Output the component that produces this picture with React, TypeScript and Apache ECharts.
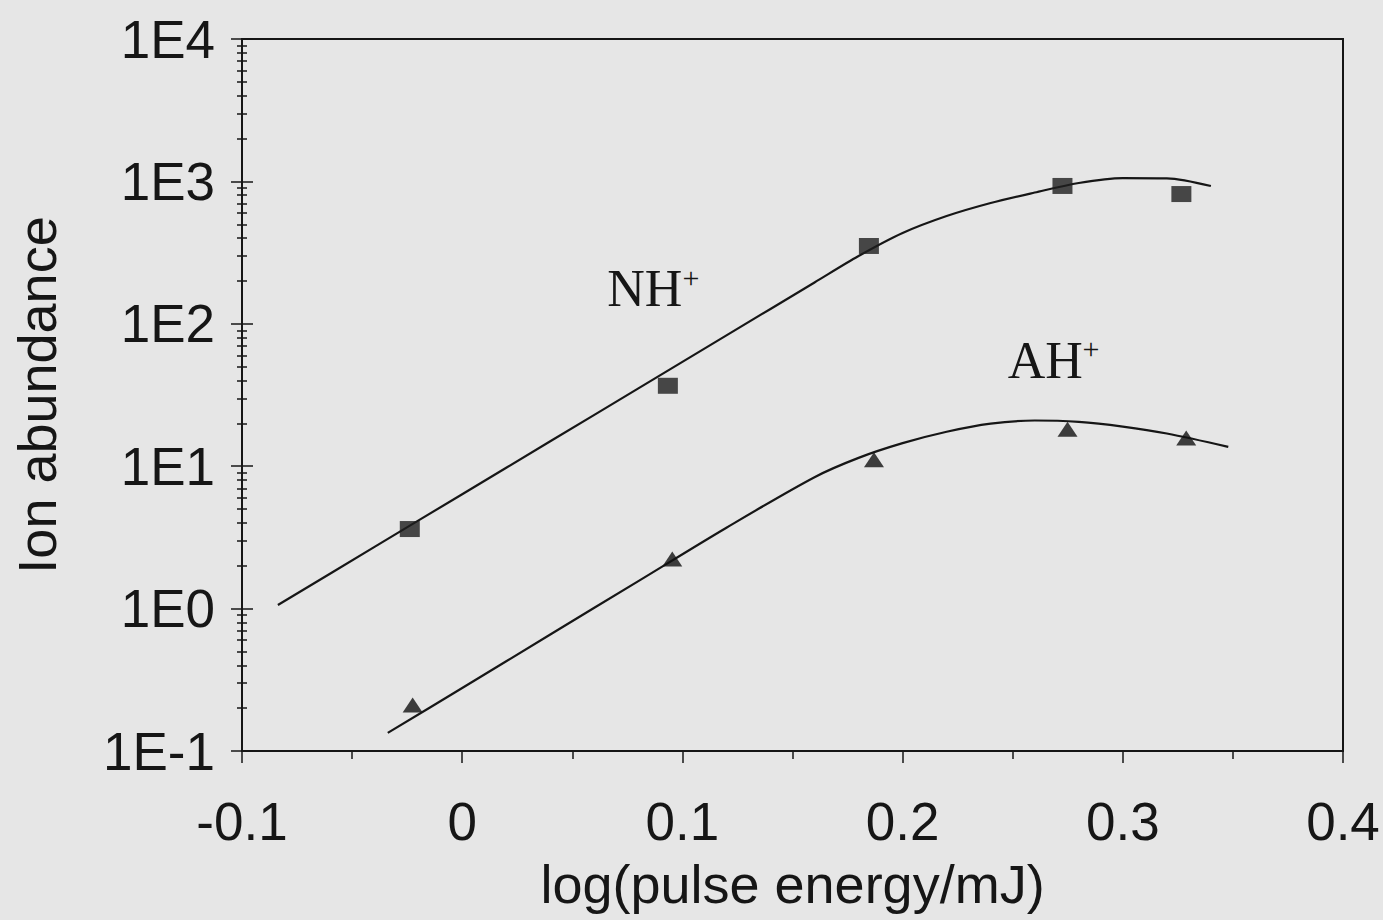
import React, { useEffect, useRef } from "react";
import * as echarts from "echarts";

// ---- data ----
const xTickValues = [-0.1, 0, 0.1, 0.2, 0.3, 0.4];
const yTickLabels = ["1E-1", "1E0", "1E1", "1E2", "1E3", "1E4"];

// measured points: NH+ (squares)
const nhX = [-0.0238, 0.0934, 0.1847, 0.2726, 0.3266];
const nhY = [3.62, 36.7, 352, 929, 815];

// measured points: AH+ (triangles)
const ahX = [-0.0225, 0.0954, 0.187, 0.2749, 0.3288];
const ahY = [0.21, 2.23, 11.1, 18.2, 15.8];

// fitted curve NH+
const nhFitX = [-0.0837, -0.04, 0, 0.04, 0.08, 0.12, 0.16, 0.18, 0.2, 0.22, 0.24, 0.26, 0.28, 0.3, 0.32, 0.34];
const nhFitY = [1.06, 2.7, 6.36, 14.96, 35.2, 82.9, 195, 299, 434, 571, 705, 835, 975, 1055, 1050, 928];

// fitted curve AH+
const ahFitX = [-0.0338, 0, 0.04, 0.08, 0.12, 0.16, 0.18, 0.2, 0.22, 0.24, 0.26, 0.28, 0.3, 0.32, 0.3479];
const ahFitY = [0.134, 0.277, 0.658, 1.56, 3.7, 8.37, 11.44, 14.51, 17.45, 19.89, 20.94, 20.47, 18.97, 16.97, 13.68];

// annotation texts and their anchors (data space)
const labelTexts = ["NH", "AH"];
const labelAnchorX = [0.0659, 0.2477];
const labelAnchorY = [175.6, 54.8];
const supAnchorX = [0.1, 0.2817];
const supAnchorY = [213, 67.6];

// minor log ticks (2..9 per decade), in log10 space
const decades = [-1, 0, 1, 2, 3];
const minorMultipliers = [2, 3, 4, 5, 6, 7, 8, 9];
const minorLog = decades.flatMap((d) => minorMultipliers.map((m) => d + Math.log10(m)));

const INK = "#161616";
const SANS = "'Liberation Sans', Arial, Helvetica, sans-serif";
const SERIF = "'Liberation Serif', 'Times New Roman', serif";

export default function App() {
  const ref = useRef<HTMLDivElement>(null);

  useEffect(() => {
    document.body.style.margin = "0";
    document.body.style.background = "#e6e6e6";
    if (!ref.current) return;
    const chart = echarts.init(ref.current, undefined, { renderer: "svg" });

    const hiddenY = (inside: boolean, len: number, custom?: number[]) => ({
      type: "value",
      min: -1,
      max: 4,
      interval: 1,
      position: "left",
      axisLine: { show: false, onZero: false },
      axisLabel: { show: false },
      splitLine: { show: false },
      axisTick: {
        show: true,
        inside,
        length: len,
        lineStyle: { color: INK, width: 1.5 },
        ...(custom ? { customValues: custom } : {}),
      },
    });

    chart.setOption({
      animation: false,
      backgroundColor: "#e6e6e6",
      grid: {
        show: true,
        left: 242,
        right: 40,
        top: 39,
        bottom: 169,
        borderColor: INK,
        borderWidth: 2,
        backgroundColor: "transparent",
        containLabel: false,
      },
      xAxis: {
        type: "value",
        min: -0.1,
        max: 0.4,
        interval: 0.1,
        name: "log(pulse energy/mJ)",
        nameLocation: "middle",
        nameGap: 106,
        nameTextStyle: { fontSize: 54, fontFamily: SANS, color: INK },
        axisLine: { show: true, onZero: false, lineStyle: { color: INK, width: 2 } },
        axisTick: { show: true, length: 12, lineStyle: { color: INK, width: 1.5 } },
        minorTick: { show: true, splitNumber: 2, length: 8, lineStyle: { color: INK, width: 1.5 } },
        splitLine: { show: false },
        axisLabel: {
          fontSize: 53,
          fontFamily: SANS,
          color: INK,
          margin: 44,
          formatter: (v: number) => {
            const i = xTickValues.findIndex((t) => Math.abs(t - v) < 1e-9);
            return i >= 0 ? String(xTickValues[i]) : "";
          },
        },
      },
      yAxis: [
        {
          type: "log",
          logBase: 10,
          min: 0.1,
          max: 10000,
          position: "left",
          name: "Ion abundance",
          nameLocation: "middle",
          nameGap: 178,
          nameTextStyle: { fontSize: 54, fontFamily: SANS, color: INK },
          axisLine: { show: true, onZero: false, lineStyle: { color: INK, width: 2 } },
          axisTick: { show: true, length: 11, lineStyle: { color: INK, width: 1.5 } },
          splitLine: { show: false },
          axisLabel: {
            fontSize: 53,
            fontFamily: SANS,
            color: INK,
            margin: 27,
            formatter: (v: number) => {
              const e = Math.round(Math.log10(v));
              return yTickLabels[e + 1] ?? "";
            },
          },
        },
        hiddenY(true, 11),
        hiddenY(false, 5, minorLog),
        hiddenY(true, 5, minorLog),
      ],
      series: [
        {
          name: "NH+ fit",
          type: "line",
          data: nhFitX.map((x, i) => [x, nhFitY[i]]),
          showSymbol: false,
          smooth: 0.3,
          lineStyle: { color: INK, width: 2.2 },
          z: 2,
        },
        {
          name: "AH+ fit",
          type: "line",
          data: ahFitX.map((x, i) => [x, ahFitY[i]]),
          showSymbol: false,
          smooth: 0.3,
          lineStyle: { color: INK, width: 2.2 },
          z: 2,
        },
        {
          name: "NH+",
          type: "scatter",
          data: nhX.map((x, i) => [x, nhY[i]]),
          symbol: "rect",
          symbolSize: [20, 16],
          itemStyle: { color: "#1e1e1e" },
          z: 3,
        },
        {
          name: "AH+",
          type: "scatter",
          data: ahX.map((x, i) => [x, ahY[i]]),
          symbol: "triangle",
          symbolSize: [20, 15],
          itemStyle: { color: "#111111" },
          z: 3,
        },
      ],
    });

    const graphics: any[] = [];
    labelTexts.forEach((t, i) => {
      const p = chart.convertToPixel({ xAxisIndex: 0, yAxisIndex: 0 }, [labelAnchorX[i], labelAnchorY[i]]) as number[];
      const s = chart.convertToPixel({ xAxisIndex: 0, yAxisIndex: 0 }, [supAnchorX[i], supAnchorY[i]]) as number[];
      graphics.push({
        type: "text",
        x: p[0],
        y: p[1],
        style: { text: t, fontSize: 52, fontFamily: SERIF, fill: INK, align: "left", verticalAlign: "middle" },
      });
      graphics.push({
        type: "text",
        x: s[0],
        y: s[1],
        style: { text: "+", fontSize: 30, fontFamily: SERIF, fill: INK, align: "left", verticalAlign: "middle" },
      });
    });
    chart.setOption({ graphic: graphics });

    return () => chart.dispose();
  }, []);

  return <div ref={ref} style={{ width: 1383, height: 920 }} />;
}
